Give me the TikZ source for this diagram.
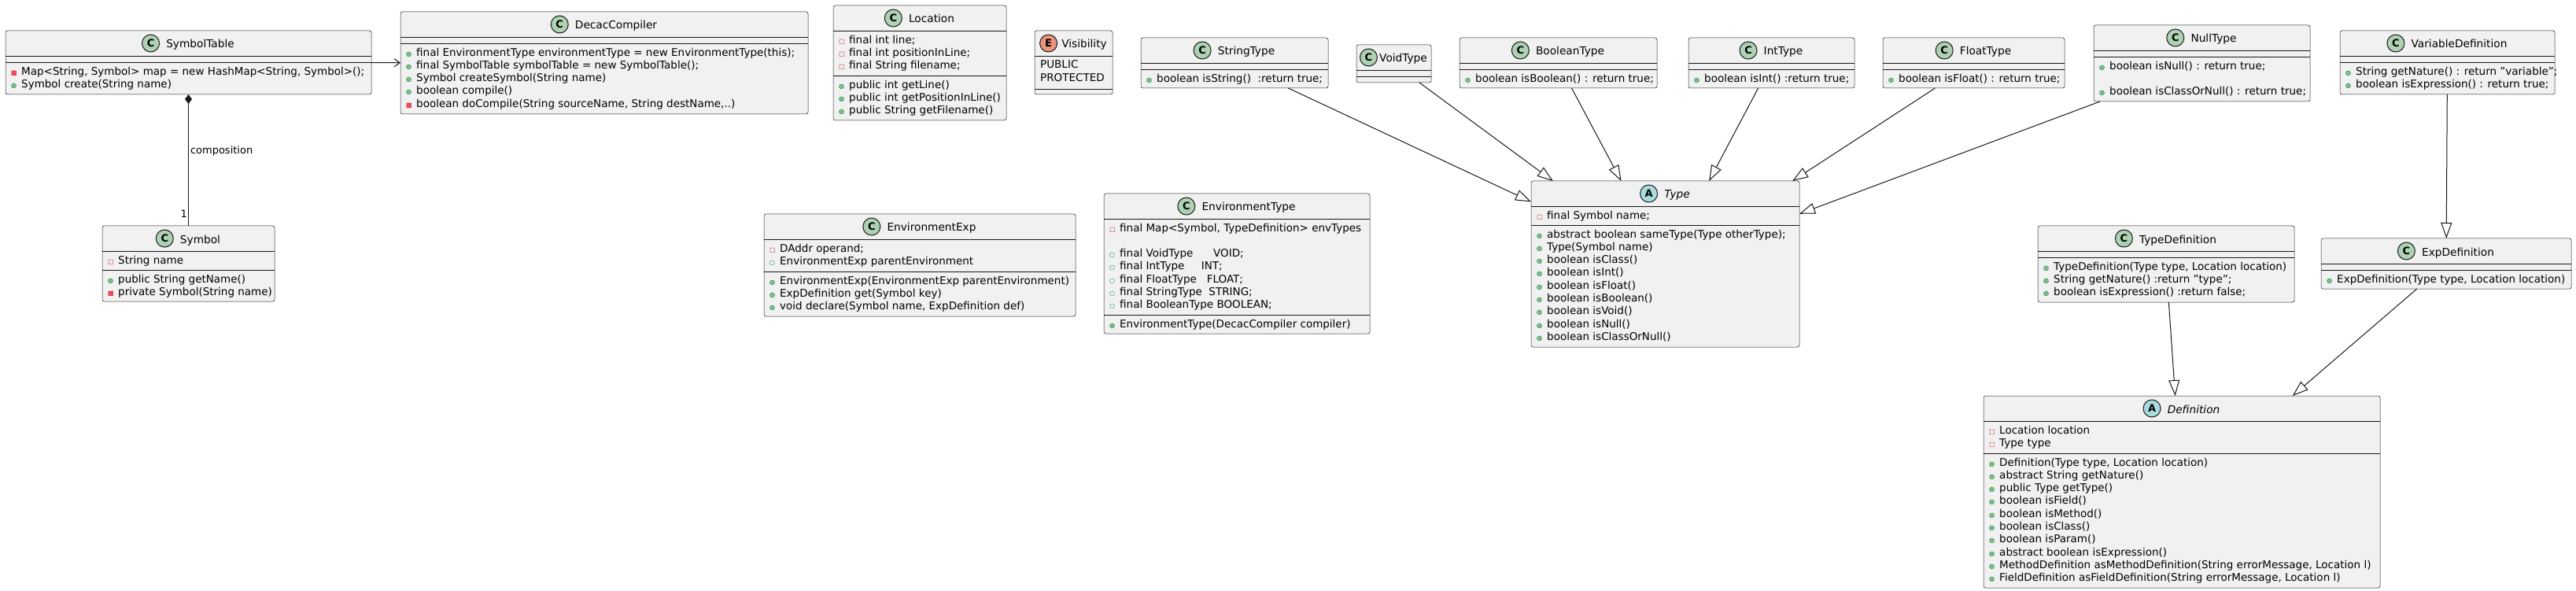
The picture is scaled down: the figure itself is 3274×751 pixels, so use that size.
\documentclass[tikz,border=0pt]{standalone}
\usepackage{fontspec}
\setmainfont{DejaVu Sans}
\usetikzlibrary{arrows.meta,positioning}

\definecolor{boxfill}{HTML}{F1F1F1}
\definecolor{linec}{HTML}{181818}
\definecolor{edgec}{HTML}{181818}
\definecolor{cgreen}{HTML}{ADD1B2}
\definecolor{acyan}{HTML}{A9DCDF}
\definecolor{esalmon}{HTML}{EB937F}
\definecolor{pubfill}{HTML}{84BE84}
\definecolor{publine}{HTML}{038048}
\definecolor{privfill}{HTML}{F24D5C}
\definecolor{privline}{HTML}{C82930}

% visibility marks in front of members
\newcommand{\vismark}[1]{\makebox[15pt][l]{\hspace{2pt}\fontsize{8}{8}\selectfont #1}}
\newcommand{\pubm}{\vismark{\rlap{\textcolor{pubfill}{●}}\textcolor{publine}{○}}}
\newcommand{\pubf}{\vismark{\textcolor{publine}{○}}}
\newcommand{\privm}{\vismark{\rlap{\textcolor{privfill}{■}}\textcolor{privline}{□}}}
\newcommand{\privf}{\vismark{\textcolor{privline}{□}}}

\begin{document}
\begin{tikzpicture}[x=1pt,y=1pt,yscale=-1,
  classbox/.style={draw=linec, line width=0.5pt, fill=boxfill, rounded corners=2.5pt, anchor=north west, inner sep=0pt, outer sep=0pt},
  sepline/.style={draw=linec, line width=0.5pt},
  clsname/.style={anchor=base, inner sep=0pt, text height=12pt, text depth=0pt, font=\fontsize{13.7}{16.3}\selectfont},
  clsicon/.style={circle, draw=edgec, line width=1pt, minimum size=22pt, inner sep=0pt, font=\fontsize{13}{13}\selectfont\bfseries},
  cicon/.style={clsicon, fill=cgreen},
  aicon/.style={clsicon, fill=acyan},
  eicon/.style={clsicon, fill=esalmon},
  members/.style={anchor=north west, inner sep=0pt, align=left, font=\fontsize{13.5}{16.3}\selectfont},
  gen/.style={draw=edgec, line width=1pt, -{Triangle[length=20pt,width=14pt,fill=white]}},
  assoc/.style={draw=edgec, line width=1pt, -{Straight Barb[length=7pt,width=10pt]}},
  comp/.style={draw=edgec, line width=1pt, {Diamond[length=12pt,width=9pt]}-},
  edgelabel/.style={inner sep=0pt, font=\fontsize{13}{13}\selectfont}]
\useasboundingbox (0,0) rectangle (3274,751);

% SymbolTable
\node[classbox, minimum width=465pt, minimum height=81pt] (symboltable) at (7,39) {};
\draw[sepline] (7,71) -- (472,71);
\draw[sepline] (7,79) -- (472,79);
\node[clsname] (symboltable-n) at (254.5,61) {SymbolTable};
\node[cicon, left=8pt of symboltable-n] (symboltable-i) {C};
\node[members] (symboltable-m) at (12,84.6) {\privm Map<String, Symbol> map = new HashMap<String, Symbol>();\\
  \pubm Symbol create(String name)};

% DecacCompiler
\node[classbox, minimum width=518pt, minimum height=130pt] (decaccompiler) at (509,15) {};
\draw[sepline] (509,47) -- (1027,47);
\draw[sepline] (509,55) -- (1027,55);
\node[clsname] (decaccompiler-n) at (783,37) {DecacCompiler};
\node[cicon, left=8pt of decaccompiler-n] (decaccompiler-i) {C};
\node[members] (decaccompiler-m) at (514,60.6) {\pubm final EnvironmentType environmentType = new EnvironmentType(this);\\
  \pubm final SymbolTable symbolTable = new SymbolTable();\\
  \pubm Symbol createSymbol(String name)\\
  \pubm boolean compile()\\
  \privm boolean doCompile(String sourceName, String destName,..)};

% Location
\node[classbox, minimum width=220pt, minimum height=146pt] (location) at (1059,7) {};
\draw[sepline] (1059,39) -- (1279,39);
\draw[sepline] (1059,96) -- (1279,96);
\node[clsname] (location-n) at (1184,29) {Location};
\node[cicon, left=8pt of location-n] (location-i) {C};
\node[members] (location-f) at (1064,44.6) {\privf final int line;\\
  \privf final int positionInLine;\\
  \privf final String filename;};
\node[members] (location-m) at (1064,101.6) {\pubm public int getLine()\\
  \pubm public int getPositionInLine()\\
  \pubm public String getFilename()};

% Visibility
\node[classbox, minimum width=99pt, minimum height=81pt] (visibility) at (1315,39) {};
\draw[sepline] (1315,71) -- (1414,71);
\draw[sepline] (1315,113) -- (1414,113);
\node[clsname] (visibility-n) at (1378,61) {Visibility};
\node[eicon, left=5pt of visibility-n] (visibility-i) {E};
\node[members] (visibility-v) at (1322,76.6) {PUBLIC\\ PROTECTED};

% StringType
\node[classbox, minimum width=238pt, minimum height=64pt] (stringtype) at (1450,48) {};
\draw[sepline] (1450,80) -- (1688,80);
\draw[sepline] (1450,88) -- (1688,88);
\node[clsname] (stringtype-n) at (1584,70) {StringType};
\node[cicon, left=8pt of stringtype-n] (stringtype-i) {C};
\node[members] (stringtype-m) at (1455,93.6) {\pubm boolean isString()\ \ :return true;};

% VoidType
\node[classbox, minimum width=95pt, minimum height=48pt] (voidtype) at (1724,57) {};
\draw[sepline] (1724,89) -- (1819,89);
\draw[sepline] (1724,97) -- (1819,97);
\node[clsname] (voidtype-n) at (1783.5,79) {VoidType};
\node[cicon, left=2pt of voidtype-n] (voidtype-i) {C};

% BooleanType
\node[classbox, minimum width=251pt, minimum height=64pt] (booleantype) at (1855,48) {};
\draw[sepline] (1855,80) -- (2106,80);
\draw[sepline] (1855,88) -- (2106,88);
\node[clsname] (booleantype-n) at (1995.5,70) {BooleanType};
\node[cicon, left=8pt of booleantype-n] (booleantype-i) {C};
\node[members] (booleantype-m) at (1860,93.6) {\pubm boolean isBoolean() : return true;};

% IntType
\node[classbox, minimum width=211pt, minimum height=64pt] (inttype) at (2146,48) {};
\draw[sepline] (2146,80) -- (2357,80);
\draw[sepline] (2146,88) -- (2357,88);
\node[clsname] (inttype-n) at (2266.5,70) {IntType};
\node[cicon, left=8pt of inttype-n] (inttype-i) {C};
\node[members] (inttype-m) at (2151,93.6) {\pubm boolean isInt() :return true;};

% FloatType
\node[classbox, minimum width=231pt, minimum height=64pt] (floattype) at (2393,48) {};
\draw[sepline] (2393,80) -- (2624,80);
\draw[sepline] (2393,88) -- (2624,88);
\node[clsname] (floattype-n) at (2523.5,70) {FloatType};
\node[cicon, left=8pt of floattype-n] (floattype-i) {C};
\node[members] (floattype-m) at (2398,93.6) {\pubm boolean isFloat() : return true;};

% NullType
\node[classbox, minimum width=275pt, minimum height=97pt] (nulltype) at (2661,32) {};
\draw[sepline] (2661,64) -- (2936,64);
\draw[sepline] (2661,72) -- (2936,72);
\node[clsname] (nulltype-n) at (2813.5,54) {NullType};
\node[cicon, left=8pt of nulltype-n] (nulltype-i) {C};
\node[members] (nulltype-m) at (2666,77.6) {\pubm boolean isNull() : return true;\\ \mbox{}\\
  \pubm boolean isClassOrNull() : return true;};

% VariableDefinition
\node[classbox, minimum width=273pt, minimum height=81pt] (variabledefinition) at (2974,39) {};
\draw[sepline] (2974,71) -- (3247,71);
\draw[sepline] (2974,79) -- (3247,79);
\node[clsname] (variabledefinition-n) at (3125.5,61) {VariableDefinition};
\node[cicon, left=8pt of variabledefinition-n] (variabledefinition-i) {C};
\node[members] (variabledefinition-m) at (2979,84.6) {\pubm String getNature() : return "variable";\\
  \pubm boolean isExpression() : return true;};

% Symbol
\node[classbox, minimum width=219pt, minimum height=96pt] (symbol) at (130,287) {};
\draw[sepline] (130,319) -- (349,319);
\draw[sepline] (130,343) -- (349,343);
\node[clsname] (symbol-n) at (254.5,309) {Symbol};
\node[cicon, left=8pt of symbol-n] (symbol-i) {C};
\node[members] (symbol-f) at (135,324.6) {\privf String name};
\node[members] (symbol-m) at (135,348.6) {\pubm public String getName()\\
  \privm private Symbol(String name)};

% EnvironmentExp
\node[classbox, minimum width=396pt, minimum height=130pt] (environmentexp) at (971,272) {};
\draw[sepline] (971,304) -- (1367,304);
\draw[sepline] (971,345) -- (1367,345);
\node[clsname] (environmentexp-n) at (1184,294) {EnvironmentExp};
\node[cicon, left=8pt of environmentexp-n] (environmentexp-i) {C};
\node[members] (environmentexp-f) at (976,309.6) {\privf DAddr operand;\\
  \pubf EnvironmentExp parentEnvironment};
\node[members] (environmentexp-m) at (976,350.6) {\pubm EnvironmentExp(EnvironmentExp parentEnvironment)\\
  \pubm ExpDefinition get(Symbol key)\\
  \pubm void declare(Symbol name, ExpDefinition def)};

% EnvironmentType
\node[classbox, minimum width=338pt, minimum height=178pt] (environmenttype) at (1403,246) {};
\draw[sepline] (1403,278) -- (1741,278);
\draw[sepline] (1403,400) -- (1741,400);
\node[clsname] (environmenttype-n) at (1587,268) {EnvironmentType};
\node[cicon, left=8pt of environmenttype-n] (environmenttype-i) {C};
\node[members] (environmenttype-f) at (1408,283.6) {\privf final Map<Symbol, TypeDefinition> envTypes\\ \mbox{}\\
  \pubf final VoidType\ \ \ \ \ \ VOID;\\
  \pubf final IntType\ \ \ \ \ INT;\\
  \pubf final FloatType\ \ \ FLOAT;\\
  \pubf final StringType\ \ STRING;\\
  \pubf final BooleanType BOOLEAN;};
\node[members] (environmenttype-m) at (1408,405.6) {\pubm EnvironmentType(DecacCompiler compiler)};

% Type
\node[classbox, minimum width=341pt, minimum height=211pt] (type) at (1946,230) {};
\draw[sepline] (1946,262) -- (2287,262);
\draw[sepline] (1946,286) -- (2287,286);
\node[clsname, font=\fontsize{13.7}{16.3}\selectfont\itshape] (type-n) at (2131.5,252) {Type};
\node[aicon, left=8pt of type-n] (type-i) {A};
\node[members] (type-f) at (1951,267.6) {\privf final Symbol name;};
\node[members] (type-m) at (1951,291.6) {\pubm abstract boolean sameType(Type otherType);\\
  \pubm Type(Symbol name)\\
  \pubm boolean isClass()\\
  \pubm boolean isInt()\\
  \pubm boolean isFloat()\\
  \pubm boolean isBoolean()\\
  \pubm boolean isVoid()\\
  \pubm boolean isNull()\\
  \pubm boolean isClassOrNull()};

% TypeDefinition
\node[classbox, minimum width=326pt, minimum height=97pt] (typedefinition) at (2590,287) {};
\draw[sepline] (2590,319) -- (2916,319);
\draw[sepline] (2590,327) -- (2916,327);
\node[clsname] (typedefinition-n) at (2768,309) {TypeDefinition};
\node[cicon, left=8pt of typedefinition-n] (typedefinition-i) {C};
\node[members] (typedefinition-m) at (2595,332.6) {\pubm TypeDefinition(Type type, Location location)\\
  \pubm String getNature() :return "type";\\
  \pubm boolean isExpression() :return false;};

% ExpDefinition
\node[classbox, minimum width=318pt, minimum height=64pt] (expdefinition) at (2950,303) {};
\draw[sepline] (2950,335) -- (3268,335);
\draw[sepline] (2950,343) -- (3268,343);
\node[clsname] (expdefinition-n) at (3124,325) {ExpDefinition};
\node[cicon, left=8pt of expdefinition-n] (expdefinition-i) {C};
\node[members] (expdefinition-m) at (2955,348.6) {\pubm ExpDefinition(Type type, Location location)};

% Definition
\node[classbox, minimum width=504pt, minimum height=244pt] (definition) at (2521,503) {};
\draw[sepline] (2521,535) -- (3025,535);
\draw[sepline] (2521,576) -- (3025,576);
\node[clsname, font=\fontsize{13.7}{16.3}\selectfont\itshape] (definition-n) at (2788,525) {Definition};
\node[aicon, left=8pt of definition-n] (definition-i) {A};
\node[members] (definition-f) at (2526,540.6) {\privf Location location\\
  \privf Type type};
\node[members] (definition-m) at (2526,581.6) {\pubm Definition(Type type, Location location)\\
  \pubm abstract String getNature()\\
  \pubm public Type getType()\\
  \pubm boolean isField()\\
  \pubm boolean isMethod()\\
  \pubm boolean isClass()\\
  \pubm boolean isParam()\\
  \pubm abstract boolean isExpression()\\
  \pubm MethodDefinition asMethodDefinition(String errorMessage, Location l)\\
  \pubm FieldDefinition asFieldDefinition(String errorMessage, Location l)};

% Connectors
\draw[assoc] (symboltable) -- (decaccompiler);
\draw[comp] (symboltable) -- (symbol)
  node[edgelabel, pos=0.43, right=2pt] (comp-label) {composition}
  node[edgelabel, pos=0.91, left=1pt] (comp-mult) {1};
\draw[gen] (stringtype) -- (type);
\draw[gen] (voidtype) -- (type);
\draw[gen] (booleantype) -- (type);
\draw[gen] (inttype) -- (type);
\draw[gen] (floattype) -- (type);
\draw[gen] (nulltype) -- (type);
\draw[gen] (variabledefinition) -- (expdefinition);
\draw[gen] (typedefinition) -- (definition);
\draw[gen] (expdefinition) -- (definition);

\end{tikzpicture}
\end{document}
